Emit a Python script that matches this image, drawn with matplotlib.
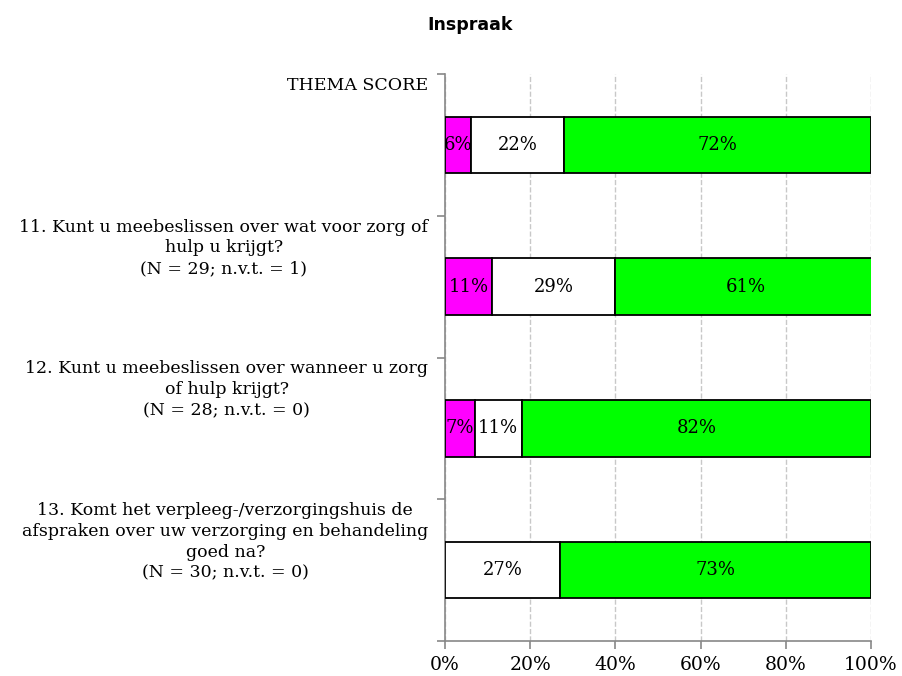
import numpy as np
import matplotlib.pyplot as plt

categories = [
    "THEMA SCORE",
    "11. Kunt u meebeslissen over wat voor zorg of\nhulp u krijgt?\n(N = 29; n.v.t. = 1)",
    "12. Kunt u meebeslissen over wanneer u zorg\nof hulp krijgt?\n(N = 28; n.v.t. = 0)",
    "13. Komt het verpleeg-/verzorgingshuis de\nafspraken over uw verzorging en behandeling\ngoed na?\n(N = 30; n.v.t. = 0)",
]
neg = [6, 11, 7, 0]
mid = [22, 29, 11, 27]
pos = [72, 61, 82, 73]
xticks = [0, 20, 40, 60, 80, 100]
xticklabels = ["0%", "20%", "40%", "60%", "80%", "100%"]

plt.rcParams['font.family'] = ['DejaVu Serif']

fig = plt.figure(figsize=(9.03, 6.76), dpi=100)
ax = fig.add_axes([445/903, 1-641/676, 426/903, (641-74)/676])

y = np.arange(len(categories))
h = 0.4
left = np.zeros(len(categories))
for vals, col in [(neg, '#FF00FF'), (mid, '#FFFFFF'), (pos, '#00FF00')]:
    vals = np.array(vals)
    ax.barh(y, vals, left=left, height=h, color=col, edgecolor='black',
            linewidth=1.3, zorder=3)
    for yi, l, v in zip(y, left, vals):
        if v > 0:
            ax.text(l + v/2, yi, f"{v}%", ha='center', va='center',
                    fontsize=13, zorder=4)
    left = left + vals

ax.set_xlim(0, 100)
ax.set_ylim(len(categories) - 0.5, -0.5)
ax.set_xticks(xticks)
ax.set_xticklabels(xticklabels, fontsize=13.5)
ax.set_yticks(np.arange(len(categories) + 1) - 0.5)
ax.set_yticklabels([])
ax.tick_params(axis='both', length=6, color='#888888', width=1.2)
ax.tick_params(axis='x', pad=5)

for s in ['top', 'right']:
    ax.spines[s].set_visible(False)
for s in ['left', 'bottom']:
    ax.spines[s].set_color('#888888')
    ax.spines[s].set_linewidth(1.2)

ax.grid(axis='x', linestyle='--', color='#C8C8C8', linewidth=1, zorder=0)
ax.set_axisbelow(True)

for yi, cat in zip(y, categories):
    ax.annotate(cat, xy=(0, yi - 0.5), xycoords=('axes fraction', 'data'),
                xytext=(-12, -2), textcoords='offset points',
                ha='right', va='top', multialignment='center', fontsize=12.5,
                linespacing=1.3)

fig.text(470/903, 1-25/676, "Inspraak", ha='center', va='center',
         fontsize=12.5, fontweight='bold', family='DejaVu Sans')

fig.savefig('out.png', dpi=100)
